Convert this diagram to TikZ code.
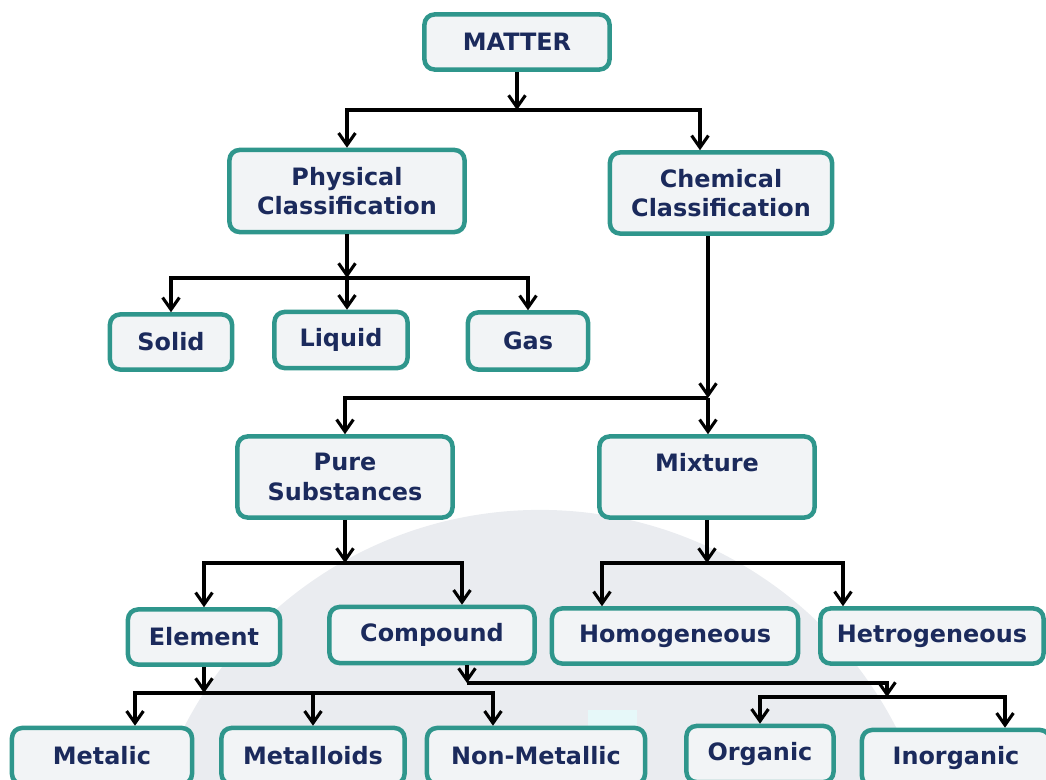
\documentclass[tikz,border=0pt]{standalone}
\usepackage{fontspec}
\setmainfont{DejaVu Sans}
\usepackage{tikz}
\usetikzlibrary{arrows.meta}
\definecolor{boxedge}{HTML}{2F968C}
\definecolor{boxfill}{HTML}{F2F4F6}
\definecolor{boxtext}{HTML}{1B2A5C}
\definecolor{watermark}{HTML}{EAECF0}
\definecolor{patch}{HTML}{E6F8F9}
\tikzset{
    box/.style={draw=boxedge, line width=3.2pt, rounded corners=0.25cm, fill=boxfill, text=boxtext, align=center, inner sep=0pt, font=\fontsize{17}{21}\selectfont\bfseries},
    link/.style={-{Straight Barb[length=3mm, width=4.2mm, line width=2.2pt]}, line width=2.2pt, black}
}
\begin{document}
\begin{tikzpicture}[x=0.025cm, y=-0.025cm]
            \useasboundingbox (0,0) rectangle (1046,780);
            \clip (0,0) rectangle (1046,780);
            \fill[watermark] (540,910) circle[radius=10cm];
            \fill[patch] (588,710) rectangle (637,780);

            \node[box, minimum width=4.625cm, minimum height=1.375cm] (matter) at (517,42) {MATTER};
            \node[box, minimum width=5.875cm, minimum height=2.05cm] (phys) at (347,191) {Physical\\Classification};
            \node[box, minimum width=5.55cm, minimum height=2.025cm] (chem) at (721,193) {Chemical\\Classification};
            \node[box, minimum width=3.05cm, minimum height=1.375cm] (solid) at (171,342) {Solid};
            \node[box, minimum width=3.325cm, minimum height=1.4cm] (liquid) at (341,340) {Liquid};
            \node[box, minimum width=3cm, minimum height=1.425cm] (gas) at (528,341) {Gas};
            \node[box, minimum width=5.375cm, minimum height=2.025cm] (pure) at (345,477) {Pure\\Substances};
            \node[box, minimum width=5.375cm, minimum height=2.025cm] (mixture) at (707,477) {Mixture\\\mbox{}};
            \node[box, minimum width=3.8cm, minimum height=1.375cm] (element) at (204,637) {Element};
            \node[box, minimum width=5.125cm, minimum height=1.4cm] (compound) at (432,635) {Compound};
            \node[box, minimum width=6.15cm, minimum height=1.375cm] (homog) at (675,636) {Homogeneous};
            \node[box, minimum width=5.575cm, minimum height=1.375cm] (hetero) at (932,636) {Hetrogeneous};
            \node[box, minimum width=4.5cm, minimum height=1.4cm] (metalic) at (102,756) {Metalic};
            \node[box, minimum width=4.575cm, minimum height=1.4cm] (metalloids) at (313,756) {Metalloids};
            \node[box, minimum width=5.45cm, minimum height=1.4cm] (nonmetal) at (536,756) {Non-Metallic};
            \node[box, minimum width=3.675cm, minimum height=1.4cm] (organic) at (760,754) {Organic};
            \node[box, minimum width=4.7cm, minimum height=1.4cm] (inorganic) at (956,758) {Inorganic};

            \coordinate (jm) at (matter.south |- 0,110);
            \coordinate (jp) at (phys.south |- 0,278);
            \coordinate (jc) at ([xshift=-0.325cm]chem.south |- 0,398);
            \coordinate (jpu) at (pure.south |- 0,563);
            \coordinate (jmx) at (mixture.south |- 0,563);
            \coordinate (je) at (element.south |- 0,693);
            \coordinate (jco) at ([xshift=0.875cm]compound.south |- 0,683);
            \coordinate (jor) at (887,697);

            \draw[link] (matter) -- (jm);
            \draw[link] (jm) -| (phys.north);
            \draw[link] (jm) -| ([xshift=-0.525cm]chem.north);

            \draw[link] (phys) -- (jp);
            \draw[link] (jp) -| (solid.north);
            \draw[link] (jp) -- (jp |- liquid.north);
            \draw[link] (jp) -| (gas.north);

            \draw[link] ([xshift=-0.325cm]chem.south) -- (jc);
            \draw[link] (jc) -| (pure.north);
            \draw[link] (jc) -- (jc |- mixture.north);

            \draw[link] (pure) -- (jpu);
            \draw[link] (jpu) -| (element.north);
            \draw[link] (jpu) -| ([xshift=0.75cm]compound.north);

            \draw[link] (mixture) -- (jmx);
            \draw[link] (jmx) -| ([xshift=-1.825cm]homog.north);
            \draw[link] (jmx) -| ([xshift=-2.225cm]hetero.north);

            \draw[link] (element) -- (je);
            \draw[link] (je) -| ([xshift=0.825cm]metalic.north);
            \draw[link] (je) -| (metalloids.north);
            \draw[link] (je) -| ([xshift=-1.075cm]nonmetal.north);

            \draw[link] ([xshift=0.875cm]compound.south) -- (jco);
            \draw[link] (jco) -| (jor);
            \draw[link] (jor) -| (organic.north);
            \draw[link] (jor) -| ([xshift=1.225cm]inorganic.north);
        \end{tikzpicture}
\end{document}
